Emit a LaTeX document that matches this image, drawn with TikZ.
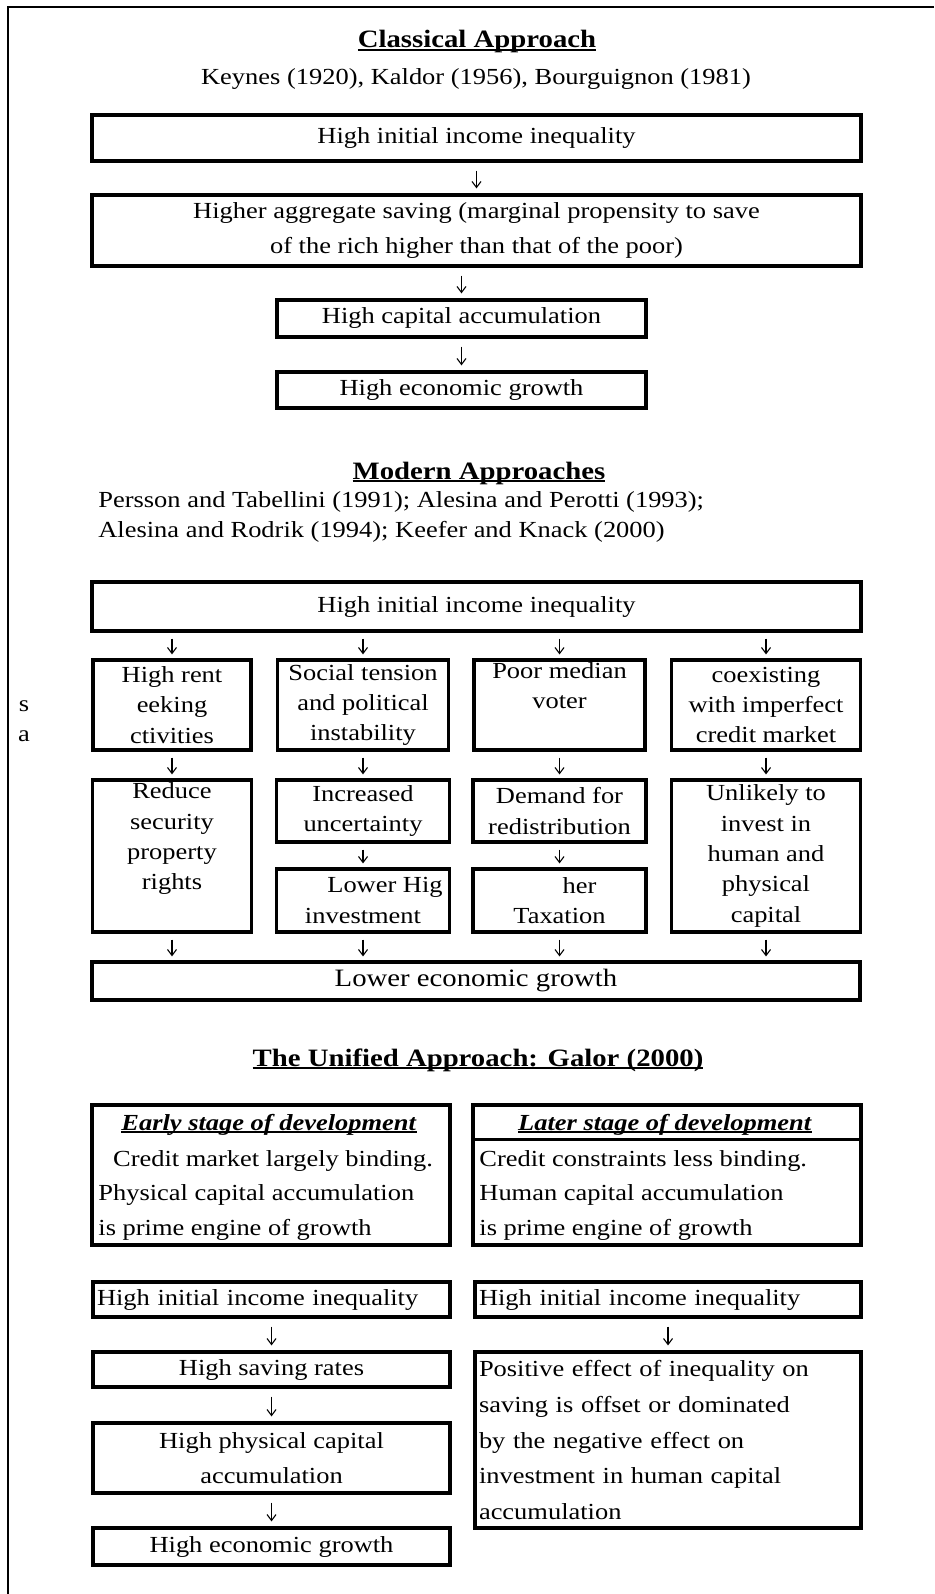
\documentclass[tikz,border=0pt]{standalone}
\usepackage{fontspec}
\setmainfont{Liberation Serif}[FakeStretch=1.15]
\newcommand{\ulw}[1]{\setbox0\hbox{#1}\rlap{\rule[-1.4pt]{\wd0}{1pt}}\box0}
\usetikzlibrary{arrows.meta,calc}

\begin{document}
\begin{tikzpicture}[x=0.5pt,y=-0.5pt,
    box/.style={draw,line width=1.6pt,inner xsep=2pt,inner ysep=1pt,align=center,font=\fontsize{11.5}{17.5}\selectfont},
    mbox/.style={box,inner ysep=0.5pt,font=\fontsize{11.5}{15.2}\selectfont},
    lbox/.style={box,align=left},
    head/.style={font=\fontsize{12.5}{15}\selectfont\bfseries,anchor=base,inner sep=0pt},
    txt/.style={font=\fontsize{11.5}{14}\selectfont,inner sep=0pt},
    dn/.style={line width=0.55pt,-{Straight Barb[length=3pt,width=4.5pt]},shorten <=4pt,shorten >=2.5pt},
    dm/.style={dn,shorten <=3pt,shorten >=2pt}]
    \useasboundingbox (0,0) rectangle (934,1594);
    \draw[line width=1.2pt] (934,7) -- (8,7) -- (8,1594);

    \node[head] (H1) at (477,48) {\ulw{Classical Approach}};
    \node[txt,anchor=base] (R1) at (476,85) {Keynes (1920), Kaldor (1956), Bourguignon (1981)};
    \node[box,minimum width=384.5pt,minimum height=23pt] (S1) at (476.5,138) {High initial income inequality};
    \node[box,minimum width=384.5pt,minimum height=35.5pt] (S2) at (476.5,230.5) {Higher aggregate saving (marginal propensity to save\\of the rich higher than that of the poor)};
    \node[box,minimum width=184.5pt,minimum height=18.5pt] (S3) at (461.5,318.5) {High capital accumulation};
    \node[box,minimum width=184.5pt,minimum height=18pt] (S4) at (461.5,390) {High economic growth};
    \draw[dn] (S1) -- (S2);
    \draw[dn] (S2.south -| S3) -- (S3);
    \draw[dn] (S3) -- (S4);

    \node[head] (H2) at (479,479) {\ulw{Modern Approaches}};
    \node[txt,anchor=base west] (R2) at (98,507) {Persson and Tabellini (1991); Alesina and Perotti (1993);};
    \node[txt,anchor=base west] (R3) at (98,537) {Alesina and Rodrik (1994); Keefer and Knack (2000)};
    \node[box,minimum width=384.5pt,minimum height=24.5pt] (M0) at (476.5,606.5) {High initial income inequality};
    \node[txt,anchor=base] (s) at (24,711) {s};
    \node[txt,anchor=base] (a) at (24,741) {a};
    \node[mbox,minimum width=79pt,minimum height=45pt] (A1) at (172,705) {High rent\\eeking\\ctivities};
    \node[mbox,minimum width=85.5pt,minimum height=45pt] (B1) at (363,705) {Social tension\\and political\\instability};
    \node[mbox,minimum width=85.5pt,minimum height=45pt] (C1) at (559.5,705) {Poor median\\voter\\\strut};
    \node[mbox,minimum width=94.5pt,minimum height=45pt] (D1) at (766,705) {coexisting\\with imperfect\\credit market};
    \node[mbox,minimum width=79.5pt,minimum height=76pt] (A2) at (172,856) {Reduce\\security\\property\\rights\\\strut};
    \node[mbox,minimum width=86.5pt,minimum height=31pt] (B2) at (363,811) {Increased\\uncertainty};
    \node[mbox,minimum width=86.5pt,minimum height=31.5pt] (B3) at (363,900.5) {\hspace*{22pt}Lower Hig\\investment};
    \node[mbox,minimum width=86.5pt,minimum height=31pt] (C2) at (559.5,811) {Demand for\\redistribution};
    \node[mbox,minimum width=86.5pt,minimum height=31.5pt] (C3) at (559.5,900.5) {\hspace*{20pt}her\\Taxation};
    \node[mbox,minimum width=94.5pt,minimum height=76pt] (D2) at (766,856) {Unlikely to\\invest in\\human and\\physical\\capital};
    \node[box,minimum width=384pt,minimum height=19pt,font=\fontsize{12.5}{15}\selectfont] (M1) at (476,981) {Lower economic growth};
    \draw[dm] (M0.south -| A1) -- (A1);
    \draw[dm] (M0.south -| B1) -- (B1);
    \draw[dm] (M0.south -| C1) -- (C1);
    \draw[dm] (M0.south -| D1) -- (D1);
    \draw[dm] (A1) -- (A2);
    \draw[dm] (B1) -- (B2);
    \draw[dm] (C1) -- (C2);
    \draw[dm] (D1) -- (D2);
    \draw[dm] (B2) -- (B3);
    \draw[dm] (C2) -- (C3);
    \draw[dm] (A2) -- (A2 |- M1.north);
    \draw[dm] (B3) -- (B3 |- M1.north);
    \draw[dm] (C3) -- (C3 |- M1.north);
    \draw[dm] (D2) -- (D2 |- M1.north);

    \node[head] (H3) at (478,1066) {\ulw{The Unified Approach: Galor (2000)}};
    \node[box,minimum width=179pt,minimum height=70pt] (E) at (271,1175) {};
    \node[box,minimum width=194pt,minimum height=70pt] (L) at (667,1175) {};
    \draw[line width=1.6pt] ($(L.north west)!0.25!(L.south west)$) -- ($(L.north east)!0.25!(L.south east)$);
    \node[txt,anchor=base] (E0) at (269,1130) {\ulw{\textbf{\textit{Early stage of development}}}};
    \node[txt,anchor=base] (E1) at (273,1166) {Credit market largely binding.};
    \node[txt,anchor=base west] (E2) at (98,1200) {Physical capital accumulation};
    \node[txt,anchor=base west] (E3) at (98,1235) {is prime engine of growth};
    \node[txt,anchor=base] (L0) at (665,1130) {\ulw{\textbf{\textit{Later stage of development}}}};
    \node[txt,anchor=base west] (L1) at (479,1166) {Credit constraints less binding.};
    \node[txt,anchor=base west] (L2) at (479,1200) {Human capital accumulation};
    \node[txt,anchor=base west] (L3) at (479,1235) {is prime engine of growth};

    \node[lbox,text width=174.5pt,minimum height=17.5pt] (U1) at (271.5,1299.5) {High initial income inequality};
    \node[lbox,text width=189pt,minimum height=17.5pt] (V1) at (668,1299.5) {High initial income inequality};
    \node[box,minimum width=178.5pt,minimum height=17.5pt] (U2) at (271.5,1369.5) {High saving rates};
    \node[lbox,text width=189pt,minimum height=88pt,font=\fontsize{11.5}{17.8}\selectfont] (V2) at (668,1440) {Positive effect of inequality on\\saving is offset or dominated\\by the negative effect on\\investment in human capital\\accumulation};
    \node[box,minimum width=178.5pt,minimum height=35pt] (U3) at (271.5,1458) {High physical capital\\accumulation};
    \node[box,minimum width=178.5pt,minimum height=18.5pt] (U4) at (271.5,1546.5) {High economic growth};
    \draw[dn] (U1) -- (U2);
    \draw[dn] (U2) -- (U3);
    \draw[dn] (U3) -- (U4);
    \draw[dn] (V1) -- (V2);
\end{tikzpicture}
\end{document}
